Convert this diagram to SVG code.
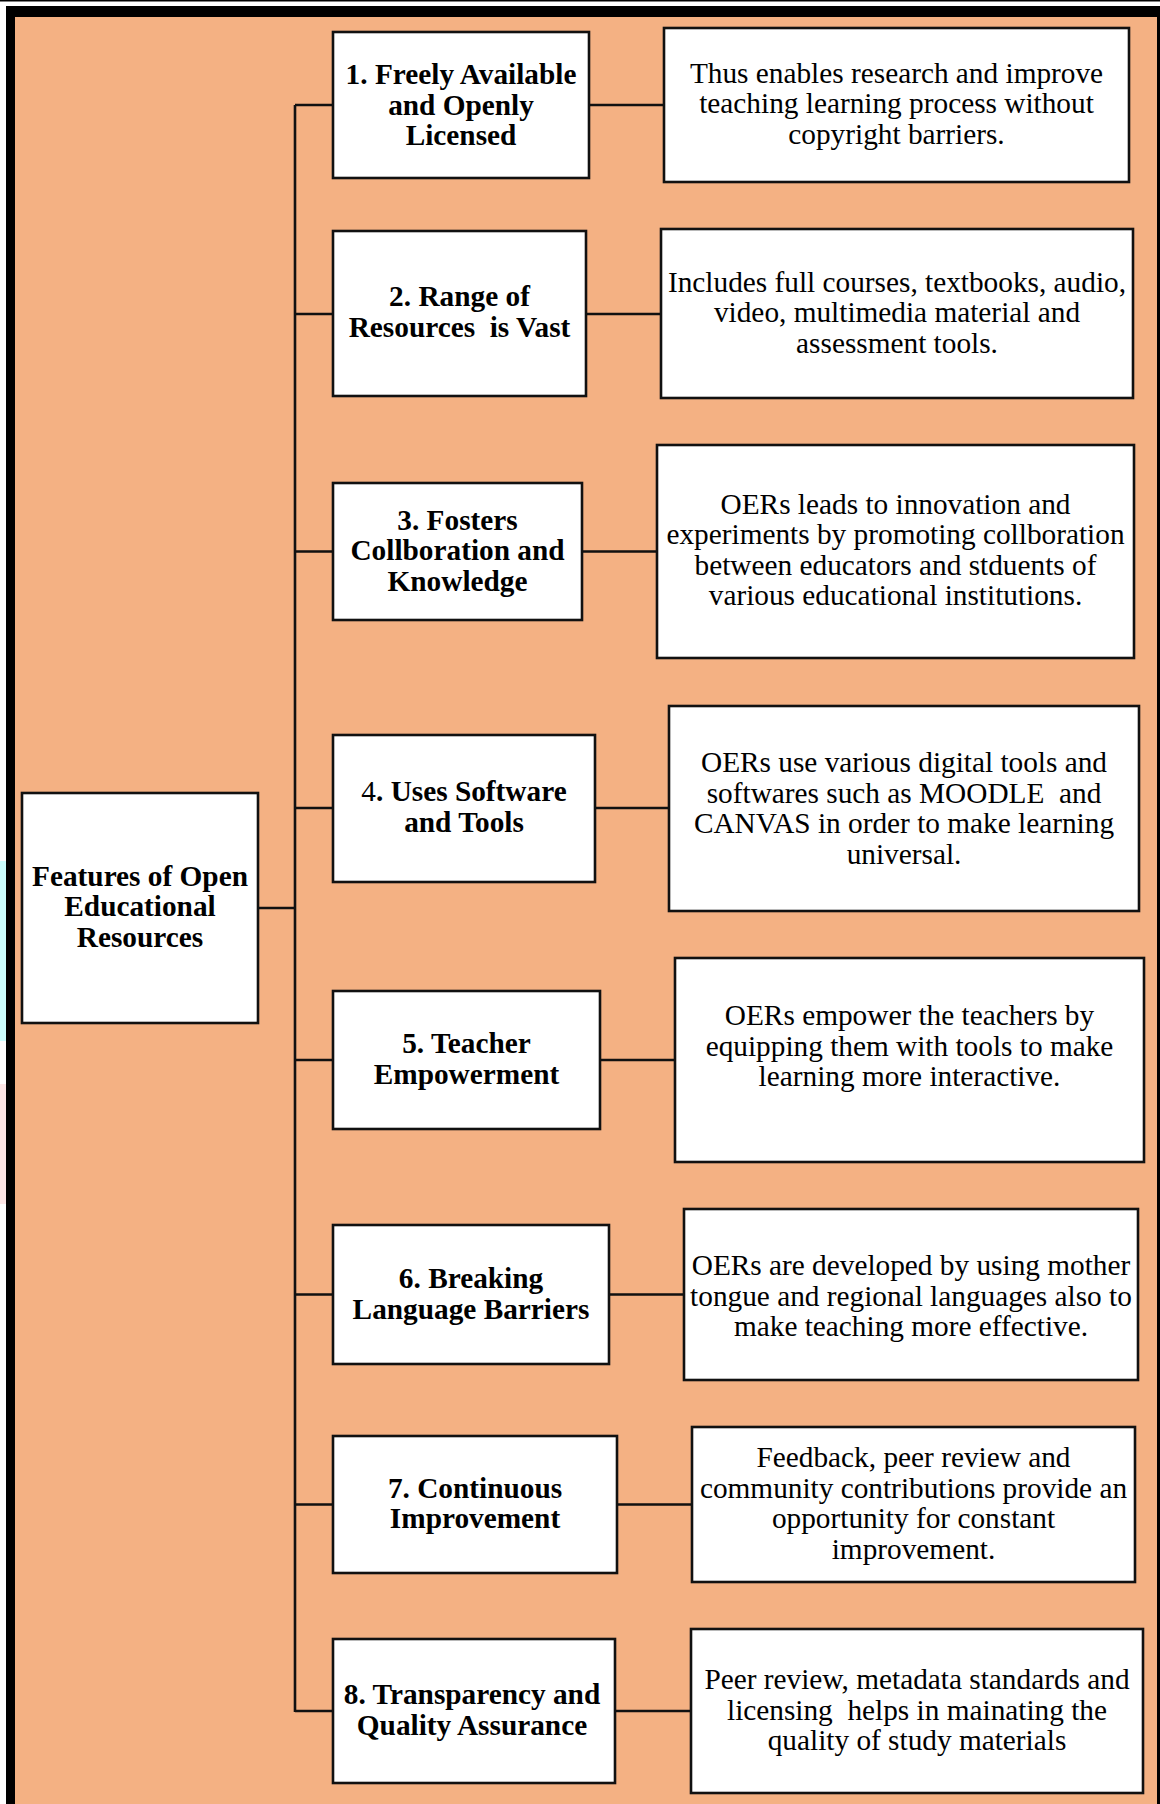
<svg xmlns="http://www.w3.org/2000/svg" width="1160" height="1804" viewBox="0 0 1160 1804">
<style>
.box{fill:#ffffff;stroke:#111;stroke-width:2.6}
.lb{font-family:"Liberation Serif","Times New Roman",serif;font-size:29.3px;font-weight:bold;text-anchor:middle;fill:#000}
.ds{font-family:"Liberation Serif","Times New Roman",serif;font-size:29.3px;text-anchor:middle;fill:#000}
.cn{fill:none;stroke:#111;stroke-width:2.6}
</style>
<rect x="0" y="0" width="1160" height="1804" fill="#ffffff"/>
<rect x="0" y="0" width="1160" height="1.5" fill="#000"/>
<rect x="0" y="861" width="6" height="180" fill="#ccffff"/>
<rect x="0" y="1084" width="6" height="120" fill="#fde6e6"/>
<rect x="6" y="6" width="1160" height="1810" fill="#000"/>
<rect x="15" y="17" width="1142" height="1800" fill="#f4b183"/>

<g id="connectors">
<path class="cn" d="M295 105V1712"/>
<path class="cn" d="M258 908H295"/>
<path class="cn" d="M295 105H333M589 105H664"/>
<path class="cn" d="M295 314H333M586 314H661"/>
<path class="cn" d="M295 551.5H333M582 551.5H657"/>
<path class="cn" d="M295 808H333M595 808H669"/>
<path class="cn" d="M295 1060H333M600 1060H675"/>
<path class="cn" d="M295 1294.5H333M609 1294.5H684"/>
<path class="cn" d="M295 1504.5H333M617 1504.5H692"/>
<path class="cn" d="M295 1711H333M615 1711H691"/>
</g>

<g id="root">
<rect class="box" x="22" y="793" width="236" height="230"/>
<text class="lb" x="140" y="885.5">Features of Open</text>
<text class="lb" x="140" y="916">Educational</text>
<text class="lb" x="140" y="946.5">Resources</text>
</g>

<g id="f1">
<rect class="box" x="333" y="32" width="256" height="146"/>
<text class="lb" x="461" y="84">1. Freely Available</text>
<text class="lb" x="461" y="114.5">and Openly</text>
<text class="lb" x="461" y="145">Licensed</text>
</g>
<g id="d1">
<rect class="box" x="664" y="28" width="465" height="154"/>
<text class="ds" x="896.5" y="83">Thus enables research and improve</text>
<text class="ds" x="896.5" y="113">teaching learning process without</text>
<text class="ds" x="896.5" y="143.5">copyright barriers.</text>
</g>

<g id="f2">
<rect class="box" x="333" y="231" width="253" height="165"/>
<text class="lb" x="459.5" y="306">2. Range of</text>
<text class="lb" x="459.5" y="336.5" xml:space="preserve">Resources  is Vast</text>
</g>
<g id="d2">
<rect class="box" x="661" y="229" width="472" height="169"/>
<text class="ds" x="897" y="291.5">Includes full courses, textbooks, audio,</text>
<text class="ds" x="897" y="322">video, multimedia material and</text>
<text class="ds" x="897" y="352.5">assessment tools.</text>
</g>

<g id="f3">
<rect class="box" x="333" y="483" width="249" height="137"/>
<text class="lb" x="457.5" y="529.5">3. Fosters</text>
<text class="lb" x="457.5" y="560">Collboration and</text>
<text class="lb" x="457.5" y="590.5">Knowledge</text>
</g>
<g id="d3">
<rect class="box" x="657" y="445" width="477" height="213"/>
<text class="ds" x="895.5" y="513.5">OERs leads to innovation and</text>
<text class="ds" x="895.5" y="544">experiments by promoting collboration</text>
<text class="ds" x="895.5" y="574.5">between educators and stduents of</text>
<text class="ds" x="895.5" y="605">various educational institutions.</text>
</g>

<g id="f4">
<rect class="box" x="333" y="735" width="262" height="147"/>
<text class="lb" x="464" y="801"><tspan font-weight="normal">4</tspan>. Uses Software</text>
<text class="lb" x="464" y="831.5">and Tools</text>
</g>
<g id="d4">
<rect class="box" x="669" y="706" width="470" height="205"/>
<text class="ds" x="904" y="772">OERs use various digital tools and</text>
<text class="ds" x="904" y="802.5" xml:space="preserve">softwares such as MOODLE  and</text>
<text class="ds" x="904" y="833">CANVAS in order to make learning</text>
<text class="ds" x="904" y="863.5">universal.</text>
</g>

<g id="f5">
<rect class="box" x="333" y="991" width="267" height="138"/>
<text class="lb" x="466.5" y="1053">5. Teacher</text>
<text class="lb" x="466.5" y="1083.5">Empowerment</text>
</g>
<g id="d5">
<rect class="box" x="675" y="958" width="469" height="204"/>
<text class="ds" x="909.5" y="1025">OERs empower the teachers by</text>
<text class="ds" x="909.5" y="1055.5">equipping them with tools to make</text>
<text class="ds" x="909.5" y="1086">learning more interactive.</text>
</g>

<g id="f6">
<rect class="box" x="333" y="1225" width="276" height="139"/>
<text class="lb" x="471" y="1288">6. Breaking</text>
<text class="lb" x="471" y="1318.5">Language Barriers</text>
</g>
<g id="d6">
<rect class="box" x="684" y="1209" width="454" height="171"/>
<text class="ds" x="911" y="1275">OERs are developed by using mother</text>
<text class="ds" x="911" y="1305.5">tongue and regional languages also to</text>
<text class="ds" x="911" y="1336">make teaching more effective.</text>
</g>

<g id="f7">
<rect class="box" x="333" y="1436" width="284" height="137"/>
<text class="lb" x="475" y="1497.5">7. Continuous</text>
<text class="lb" x="475" y="1528">Improvement</text>
</g>
<g id="d7">
<rect class="box" x="692" y="1427" width="443" height="155"/>
<text class="ds" x="913.5" y="1467">Feedback, peer review and</text>
<text class="ds" x="913.5" y="1497.5">community contributions provide an</text>
<text class="ds" x="913.5" y="1528">opportunity for constant</text>
<text class="ds" x="913.5" y="1558.5">improvement.</text>
</g>

<g id="f8">
<rect class="box" x="333" y="1639" width="282" height="144"/>
<text class="lb" x="472" y="1704">8. Transparency and</text>
<text class="lb" x="472" y="1734.5">Quality Assurance</text>
</g>
<g id="d8">
<rect class="box" x="691" y="1629" width="452" height="164"/>
<text class="ds" x="917" y="1689">Peer review, metadata standards and</text>
<text class="ds" x="917" y="1719.5" xml:space="preserve">licensing  helps in mainating the</text>
<text class="ds" x="917" y="1750">quality of study materials</text>
</g>
</svg>
